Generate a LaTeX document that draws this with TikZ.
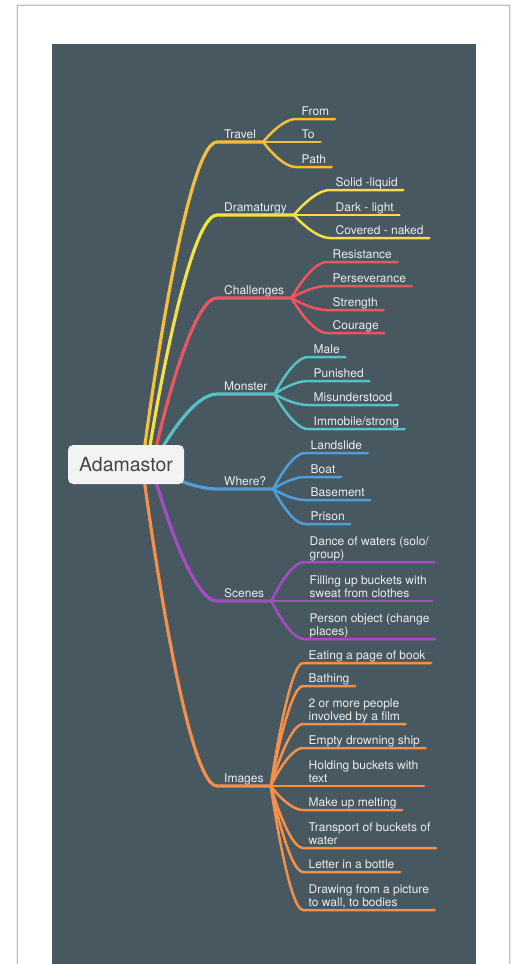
\documentclass[tikz,border=0pt]{standalone}
\usepackage{fontspec}
\setmainfont{TeX Gyre Heros}
\usetikzlibrary{calc,positioning}

\definecolor{slate}{HTML}{475861}
\definecolor{labelgrey}{HTML}{ECEDEE}
\definecolor{rootfill}{HTML}{F3F3F3}
\definecolor{roottext}{HTML}{454545}
\definecolor{travelc}{HTML}{F5BE3C}
\definecolor{dramac}{HTML}{F6DF48}
\definecolor{challc}{HTML}{EF5560}
\definecolor{monsterc}{HTML}{56C2C4}
\definecolor{wherec}{HTML}{4E9EDB}
\definecolor{scenesc}{HTML}{A64BC6}
\definecolor{imagesc}{HTML}{F68F4A}

\newcommand\leaffont{\fontsize{12}{13.5}\selectfont}
\newcommand\labelstrut{\vrule width 0pt height 9pt depth 3pt}

\pgfdeclarelayer{front}
\pgfsetlayers{main,front}

\tikzset{
	topic/.style={anchor=south west, inner xsep=7pt, inner ysep=0pt,
			text=labelgrey, font=\leaffont, execute at end node=\labelstrut},
	leaf/.style={topic, inner xsep=5.5pt, align=left},
	branch/.style={to path={let \p1=(\tikztostart), \p2=(\tikztotarget) in
					.. controls (\p1) and ({0.45*\x1+0.55*\x2},\y2) .. (\p2)}},
	mainline/.style={line width=3.2pt, line cap=round},
	subline/.style={line width=2.5pt, line cap=round}
}

\begin{document}
\begin{tikzpicture}[x=1pt, y=-1pt]

  \useasboundingbox (0,0) rectangle (516,964);
  \fill[white] (0,0) rectangle (516,964);
  \draw[black!8, line width=3pt] (17,5) rectangle (509,980);
  \draw[black!25, fill=white, line width=1pt] (17,5) rectangle (509,980);
  \fill[slate] (51.5,44) rectangle (475.5,980);

  \begin{pgfonlayer}{front}
    \node[fill=rootfill, text=roottext, rounded corners=5pt, minimum width=116pt,
      minimum height=39pt, font=\fontsize{19.5}{22}\selectfont] (root) at (126,464.5) {Adamastor};
  \end{pgfonlayer}

  \coordinate (sTravel) at (144,452);
  \coordinate (sDrama) at (149,452);
  \coordinate (sChall) at (155,452);
  \coordinate (sMonster) at (160,452);
  \coordinate (sWhere) at (178,480);
  \coordinate (sScenes) at (155,478);
  \coordinate (sImages) at (144,478);

  % main topics
  \node[topic] (travel) at (217,142) {Travel};
  \node[topic] (drama) at (217,215) {Dramaturgy};
  \node[topic] (chall) at (217,298) {Challenges};
  \node[topic] (monster) at (217,394) {Monster};
  \node[topic] (where) at (217,489) {Where?};
  \node[topic] (scenes) at (217,601) {Scenes};
  \node[topic] (images) at (217,786) {Images};

  % leaves
  \node[leaf] (tfrom) at (296,119) {From};
  \node[leaf] (tto) at (296,142) {To};
  \node[leaf] (tpath) at (296,167) {Path};

  \node[leaf] (dsolid) at (330,190) {Solid -liquid};
  \node[leaf] (ddark) at (330,215) {Dark - light};
  \node[leaf] (dcover) at (330,238) {Covered - naked};

  \node[leaf] (cres) at (327,262) {Resistance};
  \node[leaf] (cpers) at (327,286) {Perseverance};
  \node[leaf] (cstr) at (327,310) {Strength};
  \node[leaf] (ccour) at (327,333) {Courage};

  \node[leaf] (mmale) at (308,357) {Male};
  \node[leaf] (mpun) at (308,381) {Punished};
  \node[leaf] (mmis) at (308,405) {Misunderstood};
  \node[leaf] (mimm) at (308,429) {Immobile/strong};

  \node[leaf] (wland) at (305,453) {Landslide};
  \node[leaf] (wboat) at (305,477) {Boat};
  \node[leaf] (wbase) at (305,500) {Basement};
  \node[leaf] (wpris) at (305,524) {Prison};

  \node[leaf] (sdance) at (304,562) {Dance of waters (solo/\\group)};
  \node[leaf] (sfill) at (304,601) {Filling up buckets with\\sweat from clothes};
  \node[leaf] (sperson) at (304,639) {Person object (change\\places)};

  \node[leaf] (ieat) at (303,663) {Eating a page of book};
  \node[leaf] (ibath) at (303,686) {Bathing};
  \node[leaf] (ipeople) at (303,724) {2 or more people\\involved by a film};
  \node[leaf] (iship) at (303,748) {Empty drowning ship};
  \node[leaf] (ihold) at (303,786) {Holding buckets with\\text};
  \node[leaf] (imake) at (303,810) {Make up melting};
  \node[leaf] (itrans) at (303,848) {Transport of buckets of\\water};
  \node[leaf] (iletter) at (303,872) {Letter in a bottle};
  \node[leaf] (idraw) at (303,910) {Drawing from a picture\\to wall, to bodies};

  % branches from the root
  \draw[mainline, travelc] (sTravel) to[branch] (travel.south west) -- (travel.south east);
  \draw[mainline, dramac] (sDrama) to[branch] (drama.south west) -- (drama.south east);
  \draw[mainline, challc] (sChall) to[branch] (chall.south west) -- (chall.south east);
  \draw[mainline, monsterc] (sMonster) to[branch] (monster.south west) -- (monster.south east);
  \draw[mainline, wherec] (sWhere) to[branch] (where.south west) -- (where.south east);
  \draw[mainline, scenesc] (sScenes) to[branch] (scenes.south west) -- (scenes.south east);
  \draw[mainline, imagesc] (sImages) to[branch] (images.south west) -- (images.south east);

  % branches to the leaves
  \foreach \l in {tfrom,tto,tpath}
    \draw[subline, travelc] (travel.south east) to[branch] (\l.south west) -- (\l.south east);
  \foreach \l in {dsolid,ddark,dcover}
    \draw[subline, dramac] (drama.south east) to[branch] (\l.south west) -- (\l.south east);
  \foreach \l in {cres,cpers,cstr,ccour}
    \draw[subline, challc] (chall.south east) to[branch] (\l.south west) -- (\l.south east);
  \foreach \l in {mmale,mpun,mmis,mimm}
    \draw[subline, monsterc] (monster.south east) to[branch] (\l.south west) -- (\l.south east);
  \foreach \l in {wland,wboat,wbase,wpris}
    \draw[subline, wherec] (where.south east) to[branch] (\l.south west) -- (\l.south east);
  \foreach \l in {sdance,sfill,sperson}
    \draw[subline, scenesc] (scenes.south east) to[branch] (\l.south west) -- (\l.south east);
  \foreach \l in {ieat,ibath,ipeople,iship,ihold,imake,itrans,iletter,idraw}
    \draw[subline, imagesc] (images.south east) to[branch] (\l.south west) -- (\l.south east);

\end{tikzpicture}
\end{document}
